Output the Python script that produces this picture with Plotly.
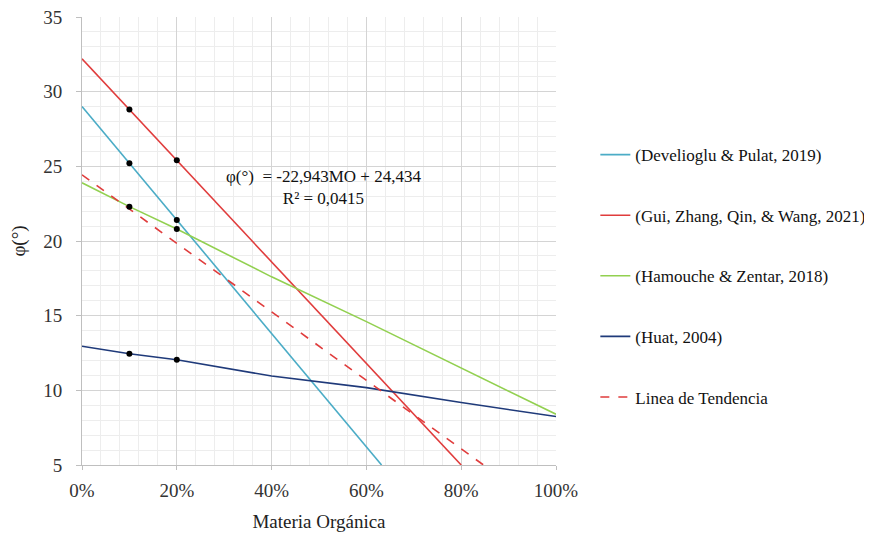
import plotly.graph_objects as go

# Data (MO as fraction, phi in degrees)
mo_dev = [0.0, 0.10, 0.20, 0.632]
phi_dev = [29.0, 25.2, 21.4, 5.0]

mo_gui = [0.0, 0.10, 0.20, 0.80]
phi_gui = [32.2, 28.8, 25.4, 5.0]

mo_ham = [0.0, 0.10, 0.20, 0.40, 0.60, 0.80, 1.00]
phi_ham = [23.9, 22.3, 20.8, 17.6, 14.6, 11.5, 8.4]

mo_huat = [0.0, 0.10, 0.20, 0.40, 0.60, 0.80, 1.00]
phi_huat = [12.95, 12.45, 12.05, 10.96, 10.18, 9.18, 8.25]

mo_trend = [0.0, 0.85]
phi_trend = [24.434, 4.932]

pts_mo = [0.10, 0.20]
pts_dev = [25.2, 21.4]
pts_gui = [28.8, 25.4]
pts_ham = [22.3, 20.8]
pts_huat = [12.45, 12.05]

names = ["(Develioglu & Pulat, 2019)", "(Gui, Zhang, Qin, & Wang, 2021)",
         "(Hamouche & Zentar, 2018)", "(Huat, 2004)", "Linea de Tendencia"]
colors = ["#4BACC6", "#E03C3C", "#92D050", "#1F3A7A", "#E03C3C"]

FONT = "Liberation Serif"

fig = go.Figure()
series = [(mo_dev, phi_dev), (mo_gui, phi_gui), (mo_ham, phi_ham), (mo_huat, phi_huat)]
for i, (xs, ys) in enumerate(series):
    fig.add_trace(go.Scatter(x=xs, y=ys, mode="lines", name=names[i],
                             line=dict(color=colors[i], width=1.6),
                             legendgroup=f"g{i}"))
fig.add_trace(go.Scatter(x=mo_trend, y=phi_trend, mode="lines", name=names[4],
                         line=dict(color=colors[4], width=1.6, dash="dash"),
                         legendgroup="g4"))
for ys in [pts_dev, pts_gui, pts_ham, pts_huat]:
    fig.add_trace(go.Scatter(x=pts_mo, y=ys, mode="markers", showlegend=False,
                             marker=dict(color="black", size=6)))

fig.add_annotation(x=0.51, y=23.55, xref="x", yref="y",
                   text="φ(°)  = -22,943MO + 24,434<br>R² = 0,0415",
                   showarrow=False, font=dict(family=FONT, size=17, color="#111"),
                   align="center")

fig.update_layout(
    width=872, height=533,
    margin=dict(l=74, r=324, t=9, b=76),
    plot_bgcolor="white", paper_bgcolor="white",
    font=dict(family=FONT, size=18, color="#333"),
    legend=dict(x=1.083, y=0.732, xanchor="left", yanchor="top",
                font=dict(family=FONT, size=17, color="#111"),
                tracegroupgap=35.5, bgcolor="rgba(0,0,0,0)"),
    xaxis=dict(range=[0, 1], dtick=0.2, tickformat=".0%", automargin=False,
               showgrid=True, gridcolor="#D4D4D4", gridwidth=1,
               minor=dict(dtick=0.04, showgrid=True, gridcolor="#EDEDED"),
               showline=True, linecolor="#BFBFBF", zeroline=False,
               ticks="outside", ticklen=4, tickcolor="#BFBFBF",
               ticklabelstandoff=4, ticklabeloverflow="allow",
               title=dict(text="Materia Orgánica", font=dict(family=FONT, size=19, color="#222"), standoff=14),
               tickfont=dict(family=FONT, size=19, color="#333")),
    yaxis=dict(range=[5, 35], dtick=5, automargin=False,
               showgrid=True, gridcolor="#D4D4D4", gridwidth=1,
               minor=dict(dtick=1, showgrid=True, gridcolor="#EDEDED"),
               showline=True, linecolor="#BFBFBF", zeroline=False,
               ticks="outside", ticklen=5, tickcolor="#BFBFBF",
               ticklabelstandoff=10, ticklabeloverflow="allow",
               title=dict(text="φ(°)", font=dict(family=FONT, size=19, color="#222"), standoff=14),
               tickfont=dict(family=FONT, size=19, color="#333")),
)

fig.write_html("out.html")
